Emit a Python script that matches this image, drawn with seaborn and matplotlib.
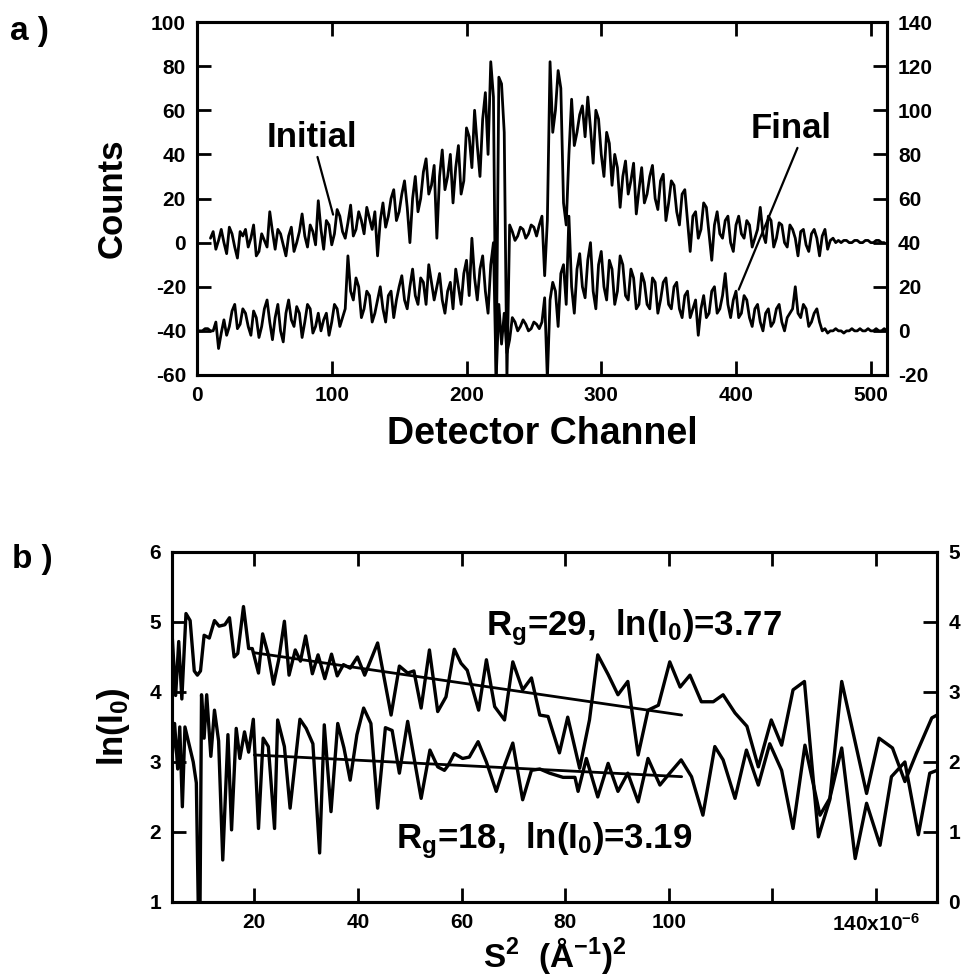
import numpy as np
import matplotlib
matplotlib.use("Agg")
import matplotlib.pyplot as plt
import seaborn as sns

sns.set_style("ticks")
plt.rcParams['font.family'] = ['Liberation Sans', 'DejaVu Sans']
plt.rcParams['font.weight'] = 'bold'
plt.rcParams['axes.unicode_minus'] = False
plt.rcParams['mathtext.fontset'] = 'custom'
plt.rcParams['mathtext.rm'] = 'Liberation Sans:bold'
plt.rcParams['mathtext.bf'] = 'Liberation Sans:bold'
plt.rcParams['mathtext.it'] = 'Liberation Sans:bold'
plt.rcParams['mathtext.default'] = 'rm'
for key in ['text.color', 'axes.labelcolor', 'xtick.color', 'ytick.color', 'axes.edgecolor']:
    plt.rcParams[key] = 'black'

# ---- panel a: detector counts (Initial on left axis, Final on right axis)
initial_channel = np.arange(10, 511, 2)
initial_counts = [
    2, 5, -3, 1, 6, 0, -5, 7, 4, -2, -7, 5, 3, 6, -2, 2, 8, -6, -4, 4,
    1, -2, 14, 5, -3, 6, 4, -1, -6, 3, 7, -4, 0, 5, 13, 3, -2, 8, 5, -1,
    19, 6, -3, 10, 8, -1, 4, 15, 12, 5, 2, 9, 17, 3, 6, 14, 10, 4, 16, 11,
    6, 14, -6, 10, 18, 7, 12, 20, 24, 10, 14, 22, 28, 16, 0, 20, 30, 14, 20, 32,
    38, 22, 26, 35, 2, 30, 42, 24, 30, 40, 18, 34, 44, 22, 28, 52, 48, 34, 60, 44,
    30, 56, 68, 40, 82, 66, -62, 75, 72, 50, -62, 8, 5, 1, 3, 7, 6, 2, 4, 8,
    7, 3, 8, 12, -15, 10, 82, 50, 60, 78, 70, 18, 8, 40, 65, 44, 50, 58, 62, 48,
    66, 52, 36, 60, 56, 40, 30, 50, 45, 26, 40, 34, 16, 30, 37, 22, 28, 36, 13, 24,
    34, 18, 22, 30, 35, 20, 15, 28, 31, 10, 18, 28, 26, 14, 8, 22, 24, 10, -4, 12,
    14, 2, 6, 18, 16, 4, -8, 8, 14, 4, 2, 10, 12, 0, -4, 8, 12, 4, 2, 10,
    8, -2, 2, 6, 16, 4, 0, 12, 10, -2, 2, 9, 8, 0, -2, 8, 6, 2, -6, 5,
    6, -1, -4, 4, 6, 2, -6, 3, 6, -3, 1, 2, 0, 1, 0, 1, 1, 0, 0, 1,
    1, 0, 0, 1, 1, 0, 0, 1, 1, 0, 0,
]
final_channel = np.arange(0, 513, 2)
final_counts = [
    0, 0, 0, 1, 1, 0, 0, 4, -8, -1,
    5, -2, 2, 9, 12, 1, 3, 10, 8, 2,
    -2, 9, 6, -3, 2, 10, 14, 4, -4, 6,
    12, 0, -5, 8, 14, 5, 2, 11, 8, -3,
    4, 12, 10, -1, 2, 8, 0, 5, 8, -2,
    4, 12, 10, 2, 6, 10, 34, 18, 14, 24,
    20, 6, 10, 18, 16, 4, 8, 14, 20, 10,
    4, 16, 18, 6, 14, 20, 25, 14, 10, 20,
    28, 16, 12, 24, 22, 12, 30, 22, 14, 20,
    26, 14, 8, 18, 22, 10, 28, 20, 12, 26,
    32, 16, 42, 24, 14, 28, 34, 18, 8, 30,
    40, -22, 12, -6, 8, -10, -4, 6, 4, 0,
    2, 5, 3, 0, 1, 4, 3, 1, 4, 15,
    -22, 14, 22, 18, 2, 26, 30, 12, 52, 20,
    8, 28, 35, 20, 15, 32, 40, 18, 10, 30,
    36, 20, 14, 32, 28, 12, 18, 34, 30, 16,
    14, 28, 24, 10, 12, 26, 22, 12, 10, 24,
    22, 8, 14, 22, 24, 12, 10, 20, 22, 10,
    6, 16, 18, 6, 10, 14, -2, 10, 16, 6,
    8, 18, 20, 8, 10, 16, 26, 12, 6, 14,
    18, 6, 8, 16, 14, 6, 2, 10, 12, 4,
    0, 8, 10, 2, 4, 10, 12, 4, 0, 6,
    8, 10, 20, 8, 6, 12, 10, 2, 4, 8,
    10, 4, 0, 1, -1, 0, 0, 1, 0, 0,
    -1, 0, 0, 1, 0, 0, 1, 0, 0, 1,
    0, 0, 1, 0, 0, 1, 0,
]

# ---- panel b: Guinier plots
upper_s2 = [4.1, 4.8, 5.4, 6.0, 6.8, 7.6, 8.4, 9.0, 9.6, 10.3,
            11.3, 12.3, 13.2, 14.3, 15.2, 16.1, 16.8, 17.9, 18.9, 19.6,
            20.8, 21.6, 22.7, 23.7, 24.7, 25.8, 26.7, 27.9, 28.9, 29.9,
            31.2, 32.3, 33.6, 34.9, 36.0, 37.2, 38.5, 39.9, 41.3, 43.8,
            46.4, 48.0, 49.6, 50.8, 52.2, 53.8, 55.4, 57.0, 58.6, 59.9,
            61.1, 63.3, 64.8, 66.4, 68.3, 69.9, 71.8, 73.5, 75.1, 76.7,
            78.9, 80.5, 82.8, 84.7, 86.3, 88.3, 90.2, 92.1, 94.1, 96.0,
            98.0, 100.2, 102.2, 104.1, 106.3, 108.6, 110.5, 112.8, 115.1, 117.3,
            119.8, 121.8, 124.0, 126.2, 128.9, 131.1, 133.4, 138.2, 140.6, 143.2,
            145.6, 147.8, 150.8, 151.8]
upper_lnI = [3.85, 2.95, 3.72, 2.9, 4.12, 4.02, 3.3, 3.24, 3.3, 3.81,
             3.77, 4.02, 3.94, 3.96, 4.06, 3.50, 3.55, 4.22, 3.62, 3.62,
             3.27, 3.83, 3.53, 3.11, 3.46, 4.01, 3.24, 3.60, 3.44, 3.80,
             3.26, 3.53, 3.19, 3.54, 3.23, 3.39, 3.34, 3.50, 3.24, 3.70,
             2.67, 3.37, 3.27, 3.30, 2.77, 3.6, 2.72, 2.93, 3.61, 3.41,
             3.31, 2.74, 3.46, 2.79, 2.6, 3.43, 3.03, 3.2, 2.67, 2.65,
             2.13, 2.64, 1.91, 2.6, 3.53, 3.25, 2.96, 3.15, 2.1, 2.74,
             2.81, 3.43, 3.07, 3.24, 2.86, 2.86, 2.96, 2.7, 2.51, 1.93,
             2.6, 2.24, 3.03, 3.15, 0.93, 1.46, 3.15, 1.55, 2.34, 2.2,
             1.72, 2.12, 2.63, 2.67]
lower_s2 = [3.9, 4.6, 5.2, 5.6, 6.1, 6.6, 7.4, 8.2, 8.8, 9.2,
            9.5, 9.8, 10.3, 10.8, 11.6, 12.3, 13.1, 13.9, 14.9, 15.6,
            16.5, 17.2, 18.1, 18.9, 19.8, 20.8, 21.7, 22.7, 23.9, 24.5,
            25.8, 26.9, 28.8, 30.0, 31.3, 32.6, 33.5, 34.8, 36.1, 37.3,
            38.5, 39.8, 41.1, 42.5, 43.8, 45.3, 46.6, 48.0, 49.6, 52.2,
            53.9, 55.4, 56.7, 57.4, 58.6, 60.2, 61.5, 63.2, 64.8, 66.7,
            68.3, 69.9, 71.8, 73.5, 75.1, 77.0, 79.6, 81.9, 82.5, 84.1,
            86.3, 88.3, 90.2, 92.1, 94.1, 96.0, 98.3, 100.2, 102.4, 104.4,
            106.6, 108.9, 110.5, 112.8, 115.0, 117.3, 119.5, 121.8, 124.0, 126.3,
            129.2, 131.1, 133.4, 136.0, 138.2, 140.8, 143.0, 145.6, 148.2, 150.4,
            151.8]
lower_lnI = [2.84, 3.55, 2.9, 3.5, 2.36, 3.5, 3.25, 3.0, 2.7, 0.8,
             0.8, 3.96, 3.34, 3.96, 3.08, 3.74, 3.3, 1.6, 3.39, 2.03,
             3.48, 3.05, 3.43, 3.14, 3.61, 2.05, 3.34, 3.22, 2.05, 3.6,
             3.22, 2.34, 3.61, 3.48, 3.26, 1.7, 3.53, 2.29, 3.55, 3.2,
             2.74, 3.39, 3.77, 3.55, 2.34, 3.49, 3.45, 2.84, 3.58, 2.48,
             3.17, 2.93, 2.88, 2.95, 3.12, 3.05, 3.07, 3.29, 3.0, 2.58,
             2.95, 3.27, 2.46, 2.88, 2.9, 2.84, 2.78, 2.78, 2.58, 3.05,
             2.5, 2.98, 2.58, 2.84, 2.43, 3.05, 2.67, 2.84, 3.03, 2.79,
             2.24, 3.22, 3.03, 2.48, 3.17, 2.67, 3.26, 2.88, 2.05, 3.24,
             2.24, 2.48, 3.2, 1.62, 2.41, 1.81, 2.79, 3.0, 1.96, 2.84,
             2.88]
# Guinier fit lines (end points)
fit_s2 = [20, 102.5]
fit_upper = [3.56, 2.67]   # right axis, Rg=29
fit_lower = [3.10, 2.79]   # left axis, Rg=18

b_xticklabels = ['20', '40', '60', '80', '100', '', '140x10$^{-6}$']

fig = plt.figure(figsize=(9.69, 9.75), dpi=100)
ax_a = fig.add_axes([0.2033, 0.6154, 0.712, 0.362])
ax_a2 = ax_a.twinx()
ax_b = fig.add_axes([0.1775, 0.0749, 0.7895, 0.359])
ax_b2 = ax_b.twinx()

sns.lineplot(x=initial_channel, y=initial_counts, ax=ax_a, color='black', lw=2.0, estimator=None)
sns.lineplot(x=final_channel, y=final_counts, ax=ax_a2, color='black', lw=2.0, estimator=None)

sns.lineplot(x=lower_s2, y=lower_lnI, ax=ax_b, color='black', lw=2.4, estimator=None)
sns.lineplot(x=fit_s2, y=fit_lower, ax=ax_b, color='black', lw=2.0, estimator=None)
sns.lineplot(x=upper_s2, y=upper_lnI, ax=ax_b2, color='black', lw=2.4, estimator=None)
sns.lineplot(x=fit_s2, y=fit_upper, ax=ax_b2, color='black', lw=2.0, estimator=None)

# axes a
ax_a.set_xlim(0, 512)
ax_a.set_ylim(-60, 100)
ax_a2.set_ylim(-20, 140)
ax_a.set_xticks(range(0, 501, 100))
ax_a.set_yticks(range(-60, 101, 20))
ax_a2.set_yticks(range(-20, 141, 20))
ax_a.set_xlabel('Detector Channel', fontsize=27, fontweight='bold', labelpad=8)
ax_a.set_ylabel('Counts', fontsize=25, fontweight='bold', labelpad=16)

ax_a.annotate('Initial', xy=(101, 12.7), xytext=(85.4, 43.5), fontsize=25,
              fontweight='bold', ha='center', va='baseline',
              arrowprops=dict(arrowstyle='-', color='black', lw=1.6, shrinkA=0, shrinkB=0,
                              relpos=(0.55, 0)))
ax_a.annotate('Final', xy=(402, -21.3), xytext=(440.6, 47.6), fontsize=25,
              fontweight='bold', ha='center', va='baseline',
              arrowprops=dict(arrowstyle='-', color='black', lw=1.6, shrinkA=0, shrinkB=0,
                              relpos=(0.6, 0)))

# axes b
ax_b.set_xlim(4.1, 151.8)
ax_b.set_ylim(1, 6)
ax_b2.set_ylim(0, 5)
ax_b.set_xticks(range(20, 141, 20))
ax_b.set_xticklabels(b_xticklabels)
ax_b.set_yticks(range(1, 7))
ax_b2.set_yticks(range(0, 6))
ax_b.set_xlabel('S$^2$  (Å$^{-1}$)$^2$', fontsize=24, fontweight='bold', labelpad=0)
ax_b.set_ylabel('ln(I$_0$)', fontsize=25, fontweight='bold', labelpad=12)

ax_b.text(64.8, 4.81, 'R$_g$=29,  ln(I$_0$)=3.77', fontsize=25, fontweight='bold',
          ha='left', va='baseline')
ax_b.text(47.4, 1.77, 'R$_g$=18,  ln(I$_0$)=3.19', fontsize=25, fontweight='bold',
          ha='left', va='baseline')

for ax in (ax_a, ax_a2, ax_b, ax_b2):
    ax.tick_params(direction='in', length=10, width=2, labelsize=15, pad=8)
    for sp in ax.spines.values():
        sp.set_linewidth(2.2)
        sp.set_visible(True)
for ax in (ax_a, ax_b):
    ax.tick_params(axis='x', top=True, bottom=True)
    ax.tick_params(axis='y', right=False)

fig.text(0.01, 1 - 40 / 975, 'a )', fontsize=24, fontweight='bold', va='baseline')
fig.text(0.012, 1 - 568 / 975, 'b )', fontsize=24, fontweight='bold', va='baseline')

fig.savefig('out.png', dpi=100)
